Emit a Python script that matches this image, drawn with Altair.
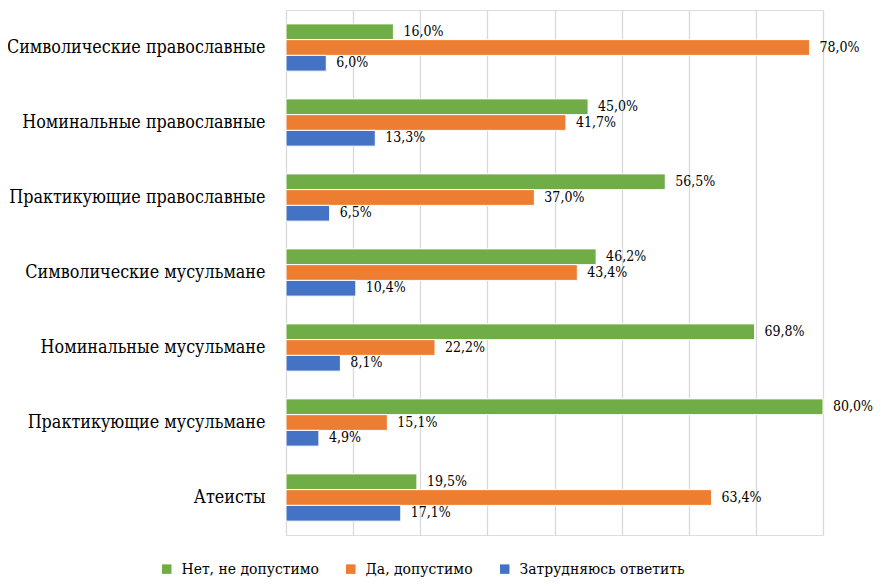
import altair as alt
import pandas as pd

categories = [
    "Символические православные",
    "Номинальные православные",
    "Практикующие православные",
    "Символические мусульмане",
    "Номинальные мусульмане",
    "Практикующие мусульмане",
    "Атеисты",
]
series = ["Нет, не допустимо", "Да, допустимо", "Затрудняюсь ответить"]
colors = ["#70AD47", "#ED7D31", "#4472C4"]

no_vals = [16.0, 45.0, 56.5, 46.2, 69.8, 80.0, 19.5]
yes_vals = [78.0, 41.7, 37.0, 43.4, 22.2, 15.1, 63.4]
dk_vals = [6.0, 13.3, 6.5, 10.4, 8.1, 4.9, 17.1]

rows = []
for s, vals in zip(series, [no_vals, yes_vals, dk_vals]):
    for c, v in zip(categories, vals):
        rows.append({"cat": c, "series": s, "value": v,
                     "label": f"{v:.1f}".replace(".", ",") + "%"})
df = pd.DataFrame(rows)

FONT_C = "DejaVu Serif Condensed, DejaVu Serif"

y_enc = alt.Y("cat:N", sort=categories, title=None,
              scale=alt.Scale(paddingInner=0.37, paddingOuter=0.185),
              axis=alt.Axis(ticks=False, domain=False, labelPadding=21,
                            labelFontSize=17.8, labelFont=FONT_C, labelColor="#000",
                            labelLimit=400))
yoff = alt.YOffset("series:N", sort=series, scale=alt.Scale(domain=series))
x_enc = alt.X("value:Q", title=None,
              scale=alt.Scale(domain=[0, 80], nice=False),
              axis=alt.Axis(values=list(range(0, 81, 10)), labels=False, ticks=False,
                            domain=False, grid=True, gridColor="#d9d9d9", gridWidth=1.3))

base = alt.Chart(df).encode(y=y_enc, yOffset=yoff)

bars = base.mark_bar(stroke="white", strokeWidth=1).encode(
    x=x_enc,
    color=alt.Color("series:N", sort=series,
                    scale=alt.Scale(domain=series, range=colors),
                    legend=alt.Legend(title=None, orient="none", direction="horizontal",
                                      legendX=-127, legendY=551,
                                      symbolType="square", symbolSize=90,
                                      symbolStrokeWidth=0, labelFont=FONT_C,
                                      labelFontSize=15.5, labelColor="#000",
                                      labelOffset=7, columnPadding=24,
                                      labelLimit=300)),
)

text = base.mark_text(align="left", baseline="middle", dx=10, font=FONT_C,
                      fontSize=14, color="#000").encode(
    x=alt.X("value:Q"),
    text="label:N",
)

chart = alt.layer(bars, text).properties(
    width=537, height=525,
    autosize=alt.AutoSizeParams(type="none"),
    padding={"left": 278, "top": 2, "right": 52, "bottom": 43},
).configure_view(stroke=None).configure(background="white")

chart.save("out.html", embed_options={"renderer": "svg", "actions": False})
